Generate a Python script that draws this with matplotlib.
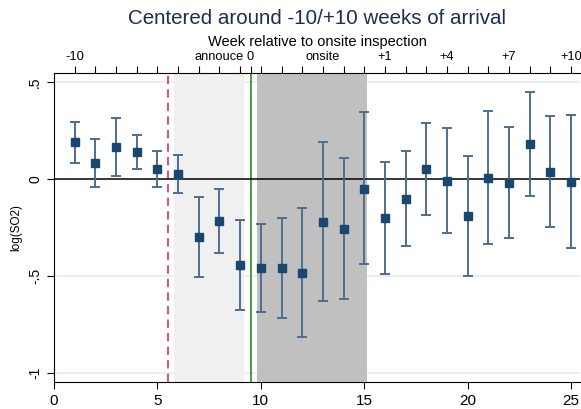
import matplotlib
matplotlib.use("Agg")
import matplotlib.pyplot as plt

plt.rcParams["font.family"] = ["Liberation Sans", "DejaVu Sans"]

# Event-time coefficients and 95% CI bounds
weeks = list(range(1, 26))
coef = [0.189, 0.084, 0.167, 0.139, 0.052, 0.024, -0.299, -0.216, -0.443, -0.460,
        -0.460, -0.483, -0.222, -0.256, -0.052, -0.203, -0.101, 0.050, -0.009, -0.191,
        0.007, -0.019, 0.180, 0.036, -0.015]
ci_hi = [0.296, 0.208, 0.316, 0.229, 0.144, 0.122, -0.094, -0.053, -0.210, -0.232,
         -0.199, -0.148, 0.189, 0.110, 0.344, 0.088, 0.144, 0.289, 0.263, 0.120,
         0.352, 0.268, 0.447, 0.325, 0.328]
ci_lo = [0.084, -0.040, 0.017, 0.050, -0.040, -0.074, -0.503, -0.380, -0.674, -0.687,
         -0.716, -0.814, -0.629, -0.620, -0.440, -0.488, -0.345, -0.186, -0.278, -0.502,
         -0.337, -0.306, -0.086, -0.247, -0.354]

# Bottom axis and left axis ticks
x_ticks = [0, 5, 10, 15, 20, 25]
y_ticks = [-1, -0.5, 0, 0.5]
y_ticklabels = ["-1", "-.5", "0", ".5"]

# Top axis: week relative to onsite inspection
top_ticks = sorted(list(range(1, 26)) + [9.5])
top_labels = {1: "-10", 8: "annouce", 9.5: "0", 13: "onsite",
              16: "+1", 19: "+4", 22: "+7", 25: "+10"}

# Event markers and shaded windows
announce_line = 5.5
arrival_line = 9.5
announce_window = (5.8, 9.2)
onsite_window = (9.8, 15.15)

fig = plt.figure(figsize=(5.81, 4.09), dpi=100)
ax = fig.add_axes([0.093, 0.065, 0.906, 0.757])

for yv in [-1, -0.5, 0.5]:
    ax.axhline(yv, color="#e6eef0", lw=1.3, zorder=0)

ax.axvspan(*announce_window, color="#f0f0f0", lw=0, zorder=1)
ax.axvspan(*onsite_window, color="#c0c0c0", lw=0, zorder=1)
ax.axvline(announce_line, color="#d6587c", lw=1.5, ls=(0, (4, 2.5)), zorder=2)
ax.axvline(arrival_line, color="#2a8a2a", lw=1.2, zorder=2)
ax.axhline(0, color="black", lw=1.1, zorder=3)

yerr = [[c - lo for c, lo in zip(coef, ci_lo)], [hi - c for c, hi in zip(coef, ci_hi)]]
ax.errorbar(weeks, coef, yerr=yerr, fmt="none", ecolor="#4e6d8e", elinewidth=1.4,
            capsize=3.5, capthick=1.4, zorder=4)
ax.plot(weeks, coef, "s", color="#1a476f", markersize=5.5, zorder=5)

ax.set_xlim(0, 25.45)
ax.set_ylim(-1.048, 0.548)
ax.set_xticks(x_ticks)
ax.set_yticks(y_ticks)
ax.set_yticklabels(y_ticklabels, rotation=90, va="center")
ax.tick_params(axis="both", labelsize=11, length=5, width=0.8)
ax.tick_params(axis="y", labelsize=10)
ax.set_ylabel("log(SO2)", fontsize=8.5, labelpad=4)

for s in ["right", "top"]:
    ax.spines[s].set_visible(False)

top = ax.twiny()
top.set_xlim(ax.get_xlim())
top.set_xticks(top_ticks)
top.set_xticklabels([top_labels.get(t, "") for t in top_ticks])
top.tick_params(axis="x", length=5, width=0.8, labelsize=9.3, pad=2)
top.set_xlabel("Week relative to onsite inspection", fontsize=10.5, labelpad=4)
for s in ["right", "bottom", "left"]:
    top.spines[s].set_visible(False)

fig.text(0.546, 0.955, "Centered around -10/+10 weeks of arrival", ha="center", va="center",
         fontsize=14.8, color="#1c2d50")

fig.savefig("out.png", dpi=100)
